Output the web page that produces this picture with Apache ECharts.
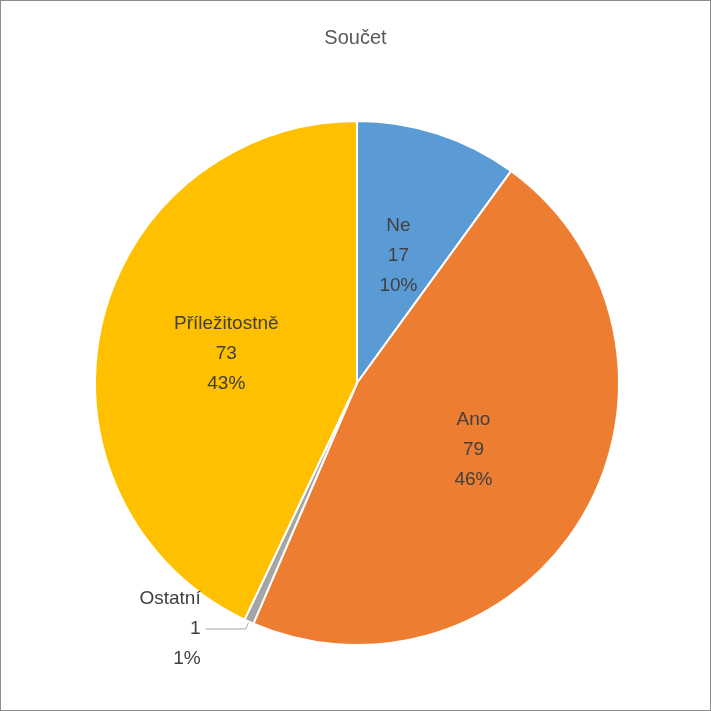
<!DOCTYPE html>
<html><head><meta charset="utf-8">
<script src="https://cdn.jsdelivr.net/npm/echarts@6/dist/echarts.min.js"></script>
<style>html,body{margin:0;padding:0;background:#fff}#c{width:711px;height:711px;box-sizing:border-box;border:1px solid #8c8c8c}</style>
</head><body><div id="c"></div>
<script>
const categories = ['Ne','Ano','Ostatní','Příležitostně'];
const values = [17,79,1,73];
const colors = ['#5B9BD5','#ED7D31','#A5A5A5','#FFC000'];
const total = values.reduce((a,b)=>a+b,0);
const chart = echarts.init(document.getElementById('c'));
const data = categories.map((n,i)=>{
  const d = {name:n, value:values[i], itemStyle:{color:colors[i]}};
  if(n==='Ostatní'){
    d.label={position:'outside', alignTo:'none'};
    d.labelLine={show:true, length:8, length2:40, lineStyle:{color:'#a6a6a6'}};
  }
  return d;
});
chart.setOption({
  animation:false,
  title:{text:'Součet', left:'center', top:22, textStyle:{fontFamily:'Liberation Sans', fontSize:20, fontWeight:'normal', color:'#595959'}},
  series:[{
    type:'pie', center:[356,382], radius:[0,262], startAngle:90, clockwise:true,
    itemStyle:{borderColor:'#fff', borderWidth:2},
    label:{position:'inside', formatter:p=>p.name+'\n'+p.value+'\n'+Math.round(p.value/total*100)+'%',
      fontFamily:'Liberation Sans', fontSize:19, lineHeight:30, color:'#404040'},
    labelLine:{show:false},
    data:data
  }]
});
</script></body></html>
